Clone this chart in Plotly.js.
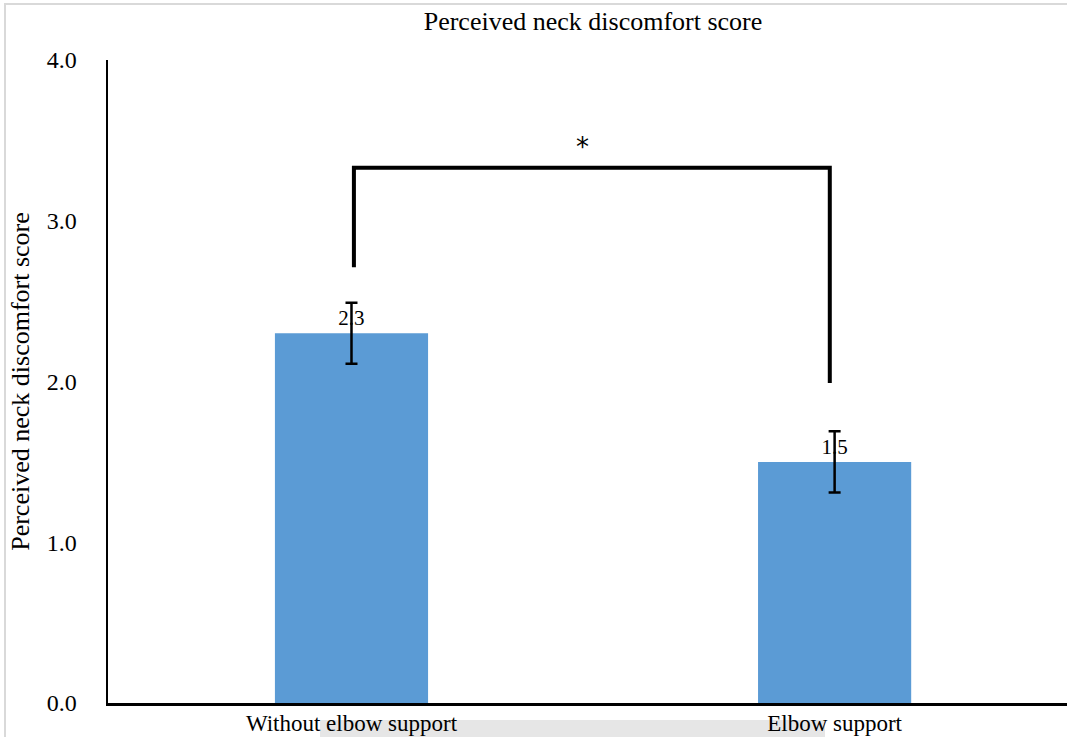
<!DOCTYPE html>
<html>
<head>
<meta charset="utf-8">
<script src="https://cdn.plot.ly/plotly-3.0.1.min.js"></script>
<style>
html,body{margin:0;padding:0;background:#fff;}
#wrap{position:absolute;left:0;top:0;width:1067px;height:737px;overflow:hidden;}
#frame{position:absolute;left:4px;top:3px;width:1063px;height:734px;border-left:2px solid #d9d9d9;border-top:2px solid #d9d9d9;pointer-events:none;}
#band{position:absolute;left:320px;top:720px;width:505px;height:17px;background:#e6e6e6;}
#chart{position:absolute;left:0;top:0;width:1067px;height:737px;}
</style>
</head>
<body>
<div id="wrap">
<div id="band"></div>
<div id="chart"></div>
<div id="frame"></div>
</div>
<script>
const categories = ["Without elbow support", "Elbow support"];
const scores = [2.3, 1.5];
const errors = [0.19, 0.19];
const labels = ["2.3", "1.5"];
const yTicks = [0, 1, 2, 3, 4];
const yTickText = ["0.0", "1.0", "2.0", "3.0", "4.0"];
const bracketLeftY = 2.71;
const bracketTopY = 3.33;
const bracketRightY = 1.99;
const sigMark = "*";

const serif = "Liberation Serif, Times New Roman, serif";

const trace = {
  type: "bar",
  x: categories,
  y: scores,
  width: 0.317,
  marker: {color: "#5b9bd5"},
  text: labels,
  textposition: "outside",
  cliponaxis: false,
  textfont: {family: serif, size: 21, color: "#000"},
  error_y: {type: "data", array: errors, visible: true, color: "#000", thickness: 2.5, width: 6},
  hoverinfo: "none"
};

const layout = {
  width: 1067, height: 737,
  margin: {l: 108, r: 0, t: 60, b: 34},
  paper_bgcolor: "rgba(0,0,0,0)",
  plot_bgcolor: "rgba(0,0,0,0)",
  showlegend: false,
  font: {family: serif, color: "#000"},
  title: {
    text: "Perceived neck discomfort score",
    font: {family: serif, size: 26, color: "#000"},
    x: 593/1067, xref: "container", xanchor: "center",
    y: 1 - 21/737, yref: "container", yanchor: "middle"
  },
  xaxis: {
    type: "category",
    range: [-0.504, 1.481],
    showline: true, linecolor: "#000", linewidth: 3,
    ticks: "", showgrid: false, zeroline: false,
    tickfont: {family: serif, size: 23, color: "#000"},
    ticklabelstandoff: -3
  },
  yaxis: {
    range: [0, 4],
    tickvals: yTicks, ticktext: yTickText,
    showline: true, linecolor: "#000", linewidth: 2.5,
    ticks: "outside", ticklen: 24, tickcolor: "rgba(0,0,0,0)",
    showgrid: false, zeroline: false,
    tickfont: {family: serif, size: 24, color: "#000"},
    title: {text: "Perceived neck discomfort score", font: {family: serif, size: 26, color: "#000"}, standoff: 10}
  },
  shapes: [
    {type: "path", xref: "x", yref: "y",
     path: "M 0.005," + bracketLeftY + " L 0.005," + bracketTopY + " L 0.99," + bracketTopY + " L 0.99," + bracketRightY,
     line: {color: "#000", width: 4}}
  ],
  annotations: [
    {x: 0.479, y: bracketTopY, xref: "x", yref: "y", text: sigMark, showarrow: false,
     yanchor: "bottom", yshift: 4, font: {family: "DejaVu Sans, sans-serif", size: 26, color: "#000"}}
  ]
};

Plotly.newPlot("chart", [trace], layout, {displayModeBar: false, staticPlot: true});
</script>
</body>
</html>
